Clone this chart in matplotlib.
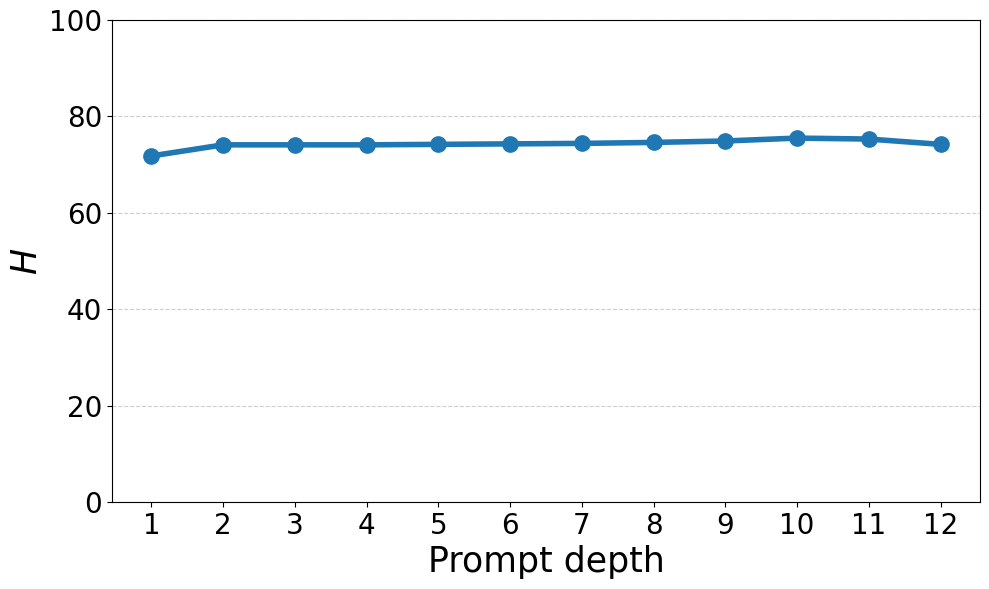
import matplotlib
matplotlib.use("Agg")
import matplotlib.pyplot as plt

depths = [1, 2, 3, 4, 5, 6, 7, 8, 9, 10, 11, 12]
h_values = [71.8, 74.1, 74.1, 74.1, 74.2, 74.3, 74.4, 74.6, 74.9, 75.5, 75.3, 74.2]

fig = plt.figure(figsize=(9.89, 5.89), dpi=100)
ax = fig.add_axes([112 / 989, 1 - 502 / 589, (980 - 112) / 989, (502 - 20) / 589])

ax.plot(depths, h_values, marker='o', color='#1f77b4', linewidth=4, markersize=11)
ax.set_ylim(0, 100)
ax.set_xlim(0.45, 12.55)
ax.set_xticks(depths)
ax.tick_params(axis='both', labelsize=20)
ax.set_xlabel("Prompt depth", fontsize=25)
ax.set_ylabel("$H$", fontsize=25)
ax.yaxis.grid(True, linestyle='--', alpha=0.6)
ax.set_axisbelow(True)

fig.savefig("out.png", dpi=100)
